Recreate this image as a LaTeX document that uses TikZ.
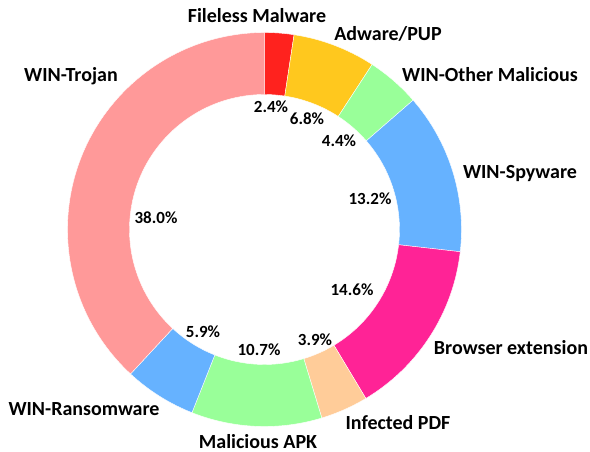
\documentclass[tikz,border=0pt]{standalone}
\usepackage{fontspec}
\setmainfont{Carlito}
\usetikzlibrary{calc}

\definecolor{filelessred}{HTML}{FF221E}
\definecolor{adwaregold}{HTML}{FFC81E}
\definecolor{lightgreen}{HTML}{99FF99}
\definecolor{lightblue}{HTML}{66B2FF}
\definecolor{browserpink}{HTML}{FF2396}
\definecolor{pdfpeach}{HTML}{FFCC99}
\definecolor{trojanpink}{HTML}{FF9999}

\tikzset{
    seg/.style={draw=white, line width=0.4pt},
    catlabel/.style={font=\bfseries\fontsize{20}{24}\selectfont, inner sep=0pt, anchor=base},
    pctlabel/.style={font=\bfseries\fontsize{17}{20}\selectfont, inner sep=0pt, anchor=base}
}

\begin{document}
\begin{tikzpicture}[x=1pt,y=-1pt]
    \useasboundingbox (0,0) rectangle (590,452);
    \coordinate (ctr) at (264.5,229.5);

    % ring, clockwise from the top (start/end in percent)
    \foreach \a/\b/\col in {0/2.4/filelessred, 2.4/9.2/adwaregold, 9.2/13.6/lightgreen,
        13.6/26.8/lightblue, 26.8/41.4/browserpink, 41.4/45.3/pdfpeach,
        45.3/56.0/lightgreen, 56.0/61.9/lightblue, 61.9/100/trojanpink} {
        \fill[\col, seg] ($(ctr)+({-90+3.6*\a}:197)$)
            arc[start angle={-90+3.6*\a}, end angle={-90+3.6*\b}, radius=197]
            -- ($(ctr)+({-90+3.6*\b}:135)$)
            arc[start angle={-90+3.6*\b}, end angle={-90+3.6*\a}, radius=135] -- cycle;
    }

    % category names
    \node[catlabel] (lbl-fileless) at (257,22.5) {Fileless Malware};
    \node[catlabel] (lbl-adware) at (388,40.5) {Adware/PUP};
    \node[catlabel] (lbl-other) at (490,81.5) {WIN-Other Malicious};
    \node[catlabel] (lbl-spyware) at (520,178.5) {WIN-Spyware};
    \node[catlabel] (lbl-browser) at (511,354.5) {Browser extension};
    \node[catlabel] (lbl-pdf) at (398,429.5) {Infected PDF};
    \node[catlabel] (lbl-apk) at (258,448.5) {Malicious APK};
    \node[catlabel] (lbl-ransom) at (84,415.5) {WIN-Ransomware};
    \node[catlabel] (lbl-trojan) at (71,81.5) {WIN-Trojan};

    % shares
    \node[pctlabel] (pct-fileless) at (271,112.5) {2.4\%};
    \node[pctlabel] (pct-adware) at (307,124.5) {6.8\%};
    \node[pctlabel] (pct-other) at (339,146.5) {4.4\%};
    \node[pctlabel] (pct-spyware) at (370,204.5) {13.2\%};
    \node[pctlabel] (pct-browser) at (352,295.5) {14.6\%};
    \node[pctlabel] (pct-pdf) at (315,345.5) {3.9\%};
    \node[pctlabel] (pct-apk) at (259,355.5) {10.7\%};
    \node[pctlabel] (pct-ransom) at (203,337.5) {5.9\%};
    \node[pctlabel] (pct-trojan) at (156,223.5) {38.0\%};
\end{tikzpicture}
\end{document}
